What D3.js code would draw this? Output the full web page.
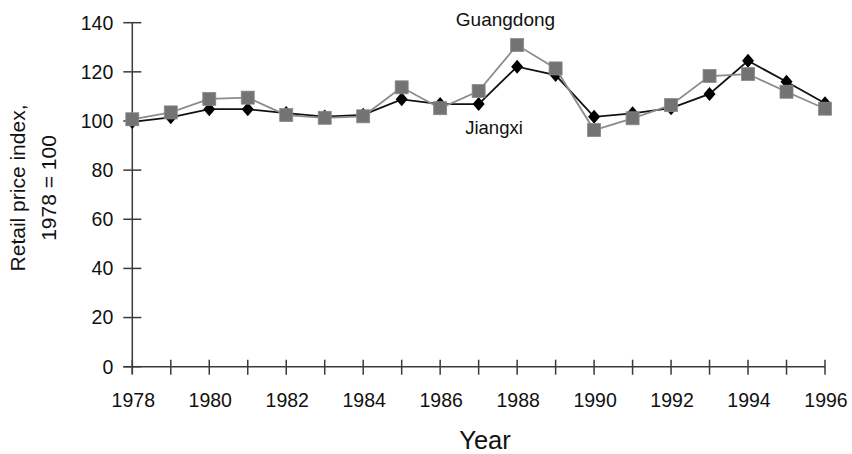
<!DOCTYPE html>
<html>
<head>
<meta charset="utf-8">
<script src="https://cdn.jsdelivr.net/npm/d3@7"></script>
<style>
  html, body { margin: 0; padding: 0; background: #fff; }
  svg { display: block; font-family: "Liberation Sans", Arial, Helvetica, sans-serif; }
</style>
</head>
<body>
<svg id="chart" width="852" height="454"></svg>
<script>
// Retail price index (previous year = 100), 1978–1996
const years = [1978, 1979, 1980, 1981, 1982, 1983, 1984, 1985, 1986, 1987,
               1988, 1989, 1990, 1991, 1992, 1993, 1994, 1995, 1996];
const guangdong = [100.7, 103.5, 109.0, 109.5, 102.4, 101.3, 101.9, 113.7, 105.2, 112.2,
                   130.9, 121.4, 96.3, 101.1, 106.5, 118.3, 119.1, 111.9, 105.0];
const jiangxi   = [99.6, 101.5, 104.8, 104.8, 103.2, 101.8, 102.5, 108.8, 106.9, 106.9,
                   122.1, 118.7, 101.7, 103.1, 105.2, 111.0, 124.5, 116.0, 107.2];
const yTicks = [0, 20, 40, 60, 80, 100, 120, 140];
const xLabelYears = [1978, 1980, 1982, 1984, 1986, 1988, 1990, 1992, 1994, 1996];

const svg = d3.select("#chart");

const x = d3.scaleLinear().domain([1978, 1996]).range([132.3, 825]);
const y = d3.scaleLinear().domain([0, 140]).range([366.7, 22.7]);

const axisColor = "#3a3a3a";

// y axis: line plus ticks crossing it
const gy = svg.append("g");
gy.append("line")
  .attr("x1", x(1978)).attr("x2", x(1978))
  .attr("y1", y(140)).attr("y2", y(0) + 7)
  .attr("stroke", axisColor).attr("stroke-width", 1.5);
gy.selectAll("line.tick").data(yTicks).join("line")
  .attr("class", "tick")
  .attr("x1", x(1978) - 9).attr("x2", x(1978) + 9)
  .attr("y1", d => y(d)).attr("y2", d => y(d))
  .attr("stroke", axisColor).attr("stroke-width", 1.5);
gy.selectAll("text").data(yTicks).join("text")
  .attr("x", x(1978) - 19).attr("y", d => y(d))
  .attr("dy", "0.35em")
  .attr("text-anchor", "end")
  .attr("font-size", 19.5)
  .attr("fill", "#111")
  .text(d => d);

// x axis
const gx = svg.append("g");
gx.append("line")
  .attr("x1", x(1978) - 9).attr("x2", x(1996))
  .attr("y1", y(0)).attr("y2", y(0))
  .attr("stroke", axisColor).attr("stroke-width", 1.5);
gx.selectAll("line.tick").data(years).join("line")
  .attr("class", "tick")
  .attr("x1", d => x(d)).attr("x2", d => x(d))
  .attr("y1", y(0) - 7).attr("y2", y(0) + 8)
  .attr("stroke", axisColor).attr("stroke-width", 1.5);
gx.selectAll("text").data(xLabelYears).join("text")
  .attr("x", d => x(d) + 1).attr("y", 406.5)
  .attr("text-anchor", "middle")
  .attr("font-size", 19.5)
  .attr("fill", "#111")
  .text(d => d);

// axis titles
svg.append("text")
  .attr("x", 485).attr("y", 449)
  .attr("text-anchor", "middle")
  .attr("font-size", 25.5)
  .attr("fill", "#111")
  .text("Year");

const yTitle = svg.append("text")
  .attr("transform", "translate(0,188) rotate(-90)")
  .attr("text-anchor", "middle")
  .attr("font-size", 21)
  .attr("fill", "#111");
yTitle.append("tspan").attr("x", 0).attr("y", 24.5).text("Retail price index,");
yTitle.append("tspan").attr("x", 0).attr("y", 55.5).text("1978 = 100");

const line = d3.line().x((d, i) => x(years[i])).y(d => y(d));

// Jiangxi: black line with diamonds
svg.append("path")
  .datum(jiangxi)
  .attr("d", line)
  .attr("fill", "none")
  .attr("stroke", "#111")
  .attr("stroke-width", 1.8);
svg.append("g").selectAll("path").data(jiangxi).join("path")
  .attr("transform", (d, i) => `translate(${x(years[i])},${y(d)})`)
  .attr("d", "M0,-7L6,0L0,7L-6,0Z")
  .attr("fill", "#000");

// Guangdong: grey line with squares
svg.append("path")
  .datum(guangdong)
  .attr("d", line)
  .attr("fill", "none")
  .attr("stroke", "#8c8c8c")
  .attr("stroke-width", 1.8);
svg.append("g").selectAll("rect").data(guangdong).join("rect")
  .attr("x", (d, i) => x(years[i]) - 6.5)
  .attr("y", d => y(d) - 6.5)
  .attr("width", 13).attr("height", 13)
  .attr("fill", "#737373")
  .attr("stroke", "#8a8a8a")
  .attr("stroke-width", 0.8);

// series labels
svg.append("text")
  .attr("x", 505.5).attr("y", 25.5)
  .attr("text-anchor", "middle")
  .attr("font-size", 19)
  .attr("fill", "#111")
  .text("Guangdong");
svg.append("text")
  .attr("x", 494).attr("y", 134)
  .attr("text-anchor", "middle")
  .attr("font-size", 18.5)
  .attr("fill", "#111")
  .text("Jiangxi");
</script>
</body>
</html>
